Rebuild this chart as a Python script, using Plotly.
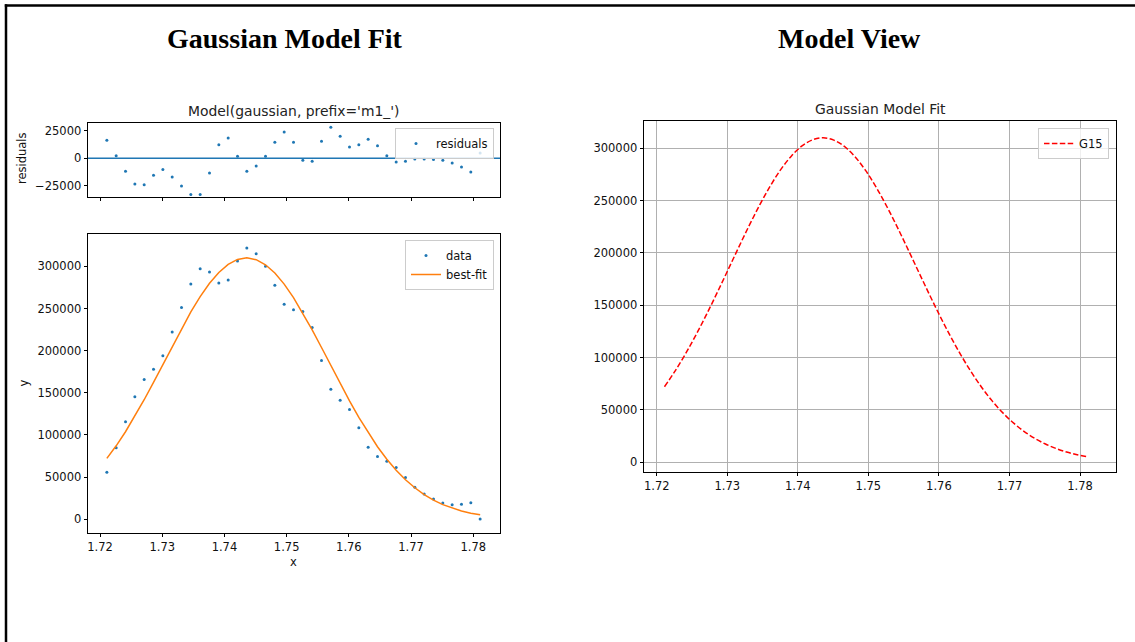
import plotly.graph_objects as go

W, H = 1135, 642

# ---------------- data ----------------
x_vals = [1.7211, 1.7226, 1.7241, 1.7256, 1.7271, 1.7286, 1.7301, 1.7316, 1.7331, 1.7346,
          1.7361, 1.7376, 1.7391, 1.7406, 1.7421, 1.7436, 1.7451, 1.7466, 1.7481, 1.7496,
          1.7511, 1.7526, 1.7541, 1.7556, 1.7571, 1.7586, 1.7601, 1.7616, 1.7631, 1.7646,
          1.7661, 1.7676, 1.7691, 1.7706, 1.7721, 1.7736, 1.7751, 1.7766, 1.7781, 1.7796,
          1.7811]

data_vals = [55790, 84740, 115620, 145420, 165770, 177940, 194030, 222140, 251250, 278910,
             297030, 293130, 280340, 283780, 306320, 321800, 314850, 299970, 277480, 254970,
             248380, 246420, 227380, 188210, 154090, 141040, 130100, 108430, 85340, 74580,
             68840, 61500, 49640, 37970, 29950, 23970, 19230, 17370, 17720, 19630,
             460]

best_fit = [72190, 87140, 103820, 122120, 141770, 162440, 183730, 205140, 226050, 245910,
            264030, 279830, 292740, 302280, 308120, 310000, 307850, 301770, 291980, 278870,
            262880, 244620, 224680, 203710, 182290, 161040, 140400, 120830, 102640, 86080,
            71240, 58200, 46940, 37370, 29350, 22770, 17430, 13170, 9820, 7230,
            5260]

residuals = [16400, 2400, -11800, -23300, -24000, -15500, -10300, -17000, -25200, -33000,
             -33000, -13300, 12400, 18500, 1800, -11800, -7000, 1800, 14500, 23900,
             14500, -1800, -2700, 15500, 28200, 20000, 10300, 12400, 17300, 11500,
             2400, -3300, -2700, -600, -600, -1200, -1800, -4200, -7900, -12400,
             4800]

x_ticks = [1.72, 1.73, 1.74, 1.75, 1.76, 1.77, 1.78]
x_tick_text = ["1.72", "1.73", "1.74", "1.75", "1.76", "1.77", "1.78"]
res_ticks = [-25000, 0, 25000]
res_tick_text = ["\u221225000", "0", "25000"]
y_ticks = [0, 50000, 100000, 150000, 200000, 250000, 300000]
y_tick_text = ["0", "50000", "100000", "150000", "200000", "250000", "300000"]

BLUE = "#1f77b4"
ORANGE = "#ff7f0e"
FONT = "DejaVu Sans"
TICK_SIZE = 11.5
TITLE_SIZE = 13.9


def px_x(p):
    return p / W


def px_y(p):
    return 1 - p / H


fig = go.Figure()

# residuals
fig.add_trace(go.Scatter(x=x_vals, y=residuals, mode="markers", name="residuals",
                         marker=dict(color=BLUE, size=3), xaxis="x", yaxis="y",
                         legend="legend"))
fig.add_trace(go.Scatter(x=[1.70, 1.80], y=[0, 0], mode="lines", showlegend=False,
                         line=dict(color=BLUE, width=1.5), xaxis="x", yaxis="y"))
# main fit
fig.add_trace(go.Scatter(x=x_vals, y=data_vals, mode="markers", name="data",
                         marker=dict(color=BLUE, size=3), xaxis="x2", yaxis="y2",
                         legend="legend2"))
fig.add_trace(go.Scatter(x=x_vals, y=best_fit, mode="lines", name="best-fit",
                         line=dict(color=ORANGE, width=1.5), xaxis="x2", yaxis="y2",
                         legend="legend2"))
# model view
fig.add_trace(go.Scatter(x=x_vals, y=best_fit, mode="lines", name="G15",
                         line=dict(color="red", width=1.5, dash="5.5px,2.4px", shape="spline"),
                         xaxis="x3", yaxis="y3", legend="legend3"))

axis_common = dict(showline=True, linecolor="black", linewidth=0.8, mirror=True,
                   ticks="outside", ticklen=3.5, tickwidth=0.8, tickcolor="black",
                   zeroline=False, tickfont=dict(family=FONT, size=TICK_SIZE, color="#111"),
                   tickmode="array")

xr_left = [1.71807, 1.78429]
xr_right = [1.7182, 1.7851]

legend_common = dict(xanchor="right", yanchor="top",
                     bgcolor="rgba(255,255,255,0.8)", bordercolor="#cccccc", borderwidth=1,
                     font=dict(family=FONT, size=TICK_SIZE, color="#111"),
                     tracegroupgap=0)

fig.update_layout(
    width=W, height=H,
    margin=dict(l=0, r=0, t=0, b=0),
    paper_bgcolor="white", plot_bgcolor="white",
    font=dict(family=FONT, size=TICK_SIZE, color="#111"),
    xaxis=dict(domain=[px_x(88), px_x(500)], range=xr_left, anchor="y",
               tickvals=x_ticks, ticktext=x_tick_text, showticklabels=False,
               showgrid=False, **axis_common),
    yaxis=dict(domain=[px_y(197), px_y(123)], range=[-35200, 32100], anchor="x",
               tickvals=res_ticks, ticktext=res_tick_text, showgrid=False, **axis_common),
    xaxis2=dict(domain=[px_x(88), px_x(500)], range=xr_left, anchor="y2",
                tickvals=x_ticks, ticktext=x_tick_text, showgrid=False, **axis_common),
    yaxis2=dict(domain=[px_y(533), px_y(234)], range=[-16250, 338300], anchor="x2",
                tickvals=y_ticks, ticktext=y_tick_text, showgrid=False, **axis_common),
    xaxis3=dict(domain=[px_x(644), px_x(1116)], range=xr_right, anchor="y3",
                tickvals=x_ticks, ticktext=x_tick_text, showgrid=True,
                gridcolor="#b0b0b0", gridwidth=0.8, **axis_common),
    yaxis3=dict(domain=[px_y(472), px_y(121)], range=[-9300, 326100], anchor="x3",
                tickvals=y_ticks, ticktext=y_tick_text, showgrid=True,
                gridcolor="#b0b0b0", gridwidth=0.8, **axis_common),
    legend=dict(x=px_x(494), y=px_y(128), **legend_common),
    legend2=dict(x=px_x(494), y=px_y(240), **legend_common),
    legend3=dict(x=px_x(1109), y=px_y(128), **legend_common),
    showlegend=True,
)

annotations = [
    dict(text="<b>Gaussian Model Fit</b>", x=px_x(284.5), y=px_y(39),
         font=dict(family="Liberation Serif", size=28, color="#000")),
    dict(text="<b>Model View</b>", x=px_x(849.5), y=px_y(39),
         font=dict(family="Liberation Serif", size=28, color="#000")),
    dict(text="Model(gaussian, prefix='m1_')", x=px_x(294), y=px_y(111),
         font=dict(family=FONT, size=TITLE_SIZE, color="#222")),
    dict(text="Gaussian Model Fit", x=px_x(880), y=px_y(109.5),
         font=dict(family=FONT, size=TITLE_SIZE, color="#222")),
    dict(text="residuals", x=px_x(22), y=px_y(158), textangle=-90,
         font=dict(family=FONT, size=TICK_SIZE, color="#111")),
    dict(text="y", x=px_x(23), y=px_y(383.5), textangle=-90,
         font=dict(family=FONT, size=TICK_SIZE, color="#111")),
    dict(text="x", x=px_x(293), y=px_y(562),
         font=dict(family=FONT, size=TICK_SIZE, color="#111")),
]
for a in annotations:
    a.update(xref="paper", yref="paper", showarrow=False, xanchor="center", yanchor="middle")
fig.update_layout(annotations=annotations)

# page frame: top and left edges
fig.add_shape(type="line", xref="paper", yref="paper",
              x0=px_x(4.8), y0=px_y(5.5), x1=1.0, y1=px_y(5.5),
              line=dict(color="black", width=2.5), layer="above")
fig.add_shape(type="line", xref="paper", yref="paper",
              x0=px_x(6), y0=px_y(4.3), x1=px_x(6), y1=0.0,
              line=dict(color="black", width=2.5), layer="above")

fig.write_html("out.html", config={"displayModeBar": False})
